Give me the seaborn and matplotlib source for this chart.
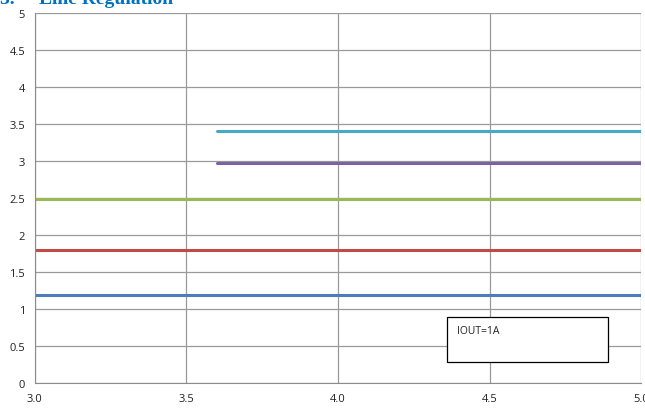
import numpy as np
import pandas as pd
import matplotlib
matplotlib.use("Agg")
import matplotlib.pyplot as plt
import seaborn as sns

# output voltage vs input voltage, IOUT = 1A
vin_full = [3.0, 3.5, 4.0, 4.5, 5.0]
vin_part = [3.6, 4.0, 4.5, 5.0]
vout_12 = [1.19, 1.19, 1.19, 1.19, 1.19]
vout_18 = [1.80, 1.80, 1.80, 1.80, 1.80]
vout_25 = [2.49, 2.49, 2.49, 2.49, 2.49]
vout_30 = [2.98, 2.98, 2.98, 2.98]
vout_34 = [3.41, 3.41, 3.41, 3.41]

series = [
    ("1.2V", vin_full, vout_12, "#4A7EBB"),
    ("1.8V", vin_full, vout_18, "#BE4B48"),
    ("2.5V", vin_full, vout_25, "#98B954"),
    ("3.0V", vin_part, vout_30, "#7D60A0"),
    ("3.4V", vin_part, vout_34, "#46AAC5"),
]

sns.set_style("white")
plt.rcParams['font.family'] = ['Open Sans', 'DejaVu Sans']

fig = plt.figure(figsize=(6.45, 4.1), dpi=100)
ax = fig.add_axes([0.054, 0.063, 0.94, 0.903])

rows = []
for name, xs, ys, _ in series:
    for x, y in zip(xs, ys):
        rows.append({"vin": x, "vout": y, "rail": name})
df = pd.DataFrame(rows)

palette = {name: c for name, _, _, c in series}
sns.lineplot(data=df, x="vin", y="vout", hue="rail", palette=palette,
             linewidth=2.2, ax=ax, legend=False)

ax.set_xlim(3.0, 5.0)
ax.set_ylim(0, 5)
ax.set_xticks(np.arange(3.0, 5.01, 0.5))
ax.set_xticklabels(["3.0", "3.5", "4.0", "4.5", "5.0"])
ax.set_yticks(np.arange(0, 5.01, 0.5))
ax.set_yticklabels(["0", "0.5", "1", "1.5", "2", "2.5", "3", "3.5", "4", "4.5", "5"])
ax.grid(True, color="#9a9a9a", linewidth=0.9)
ax.set_axisbelow(True)
ax.set_xlabel("")
ax.set_ylabel("")
for s in ["top", "right"]:
    ax.spines[s].set_visible(False)
for s in ["left", "bottom"]:
    ax.spines[s].set_color("#8c8c8c")
ax.tick_params(axis="both", which="both", direction="out", length=4, color="#8c8c8c",
               labelsize=8, labelcolor="#222222", pad=3)

box = plt.Rectangle((0.680, 0.056), 0.266, 0.124, transform=ax.transAxes,
                    facecolor="white", edgecolor="black", linewidth=0.9, zorder=3)
ax.add_patch(box)
ax.text(0.697, 0.142, "IOUT=1A", transform=ax.transAxes, fontsize=7.5,
        color="#222222", va="center", ha="left", zorder=4)

fig.text(0.0, 1.0, "3.     Line Regulation", fontsize=14, fontweight="bold",
         color="#0070C0", family=["Liberation Serif", "DejaVu Serif"],
         va="center", ha="left")

fig.savefig("out.png", dpi=100)
